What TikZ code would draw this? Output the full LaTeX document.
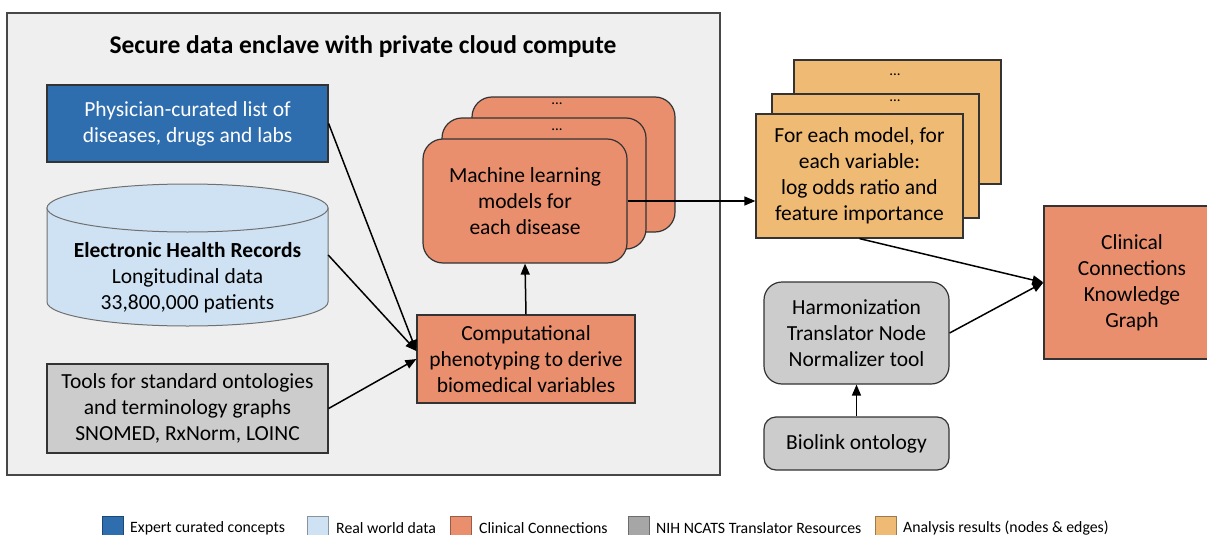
\documentclass[tikz,border=0pt]{standalone}
\usepackage{fontspec}
\setmainfont{Carlito}
\usetikzlibrary{arrows.meta,calc}
\definecolor{eblue}{HTML}{2E6DAE}
\definecolor{lblue}{HTML}{CFE2F3}
\definecolor{salmon}{HTML}{EA8F6E}
\definecolor{lgray}{HTML}{CCCCCC}
\definecolor{mgray}{HTML}{A6A6A6}
\definecolor{orng}{HTML}{EFBB74}
\definecolor{encl}{HTML}{EFEFEF}
\definecolor{bordc}{HTML}{333333}
\begin{document}
\begin{tikzpicture}[x=1pt,y=-1pt,
  box/.style={draw=bordc, line width=1.2pt, inner sep=0pt, align=center,
    font=\fontsize{21.5}{26}\selectfont},
  rbox/.style={box, rounded corners=#1},
  dots/.style={inner sep=0pt, font=\fontsize{15}{15}\selectfont},
  arr/.style={line width=1.5pt, -{Triangle[length=11pt,width=9pt]}},
  legsq/.style={draw=#1!65!black, fill=#1, line width=0.8pt, minimum width=21pt, minimum height=20pt, inner sep=0pt},
  legtx/.style={anchor=west, inner sep=0pt, font=\fontsize{15.8}{16}\selectfont}]
\clip (0,0) rectangle (1207,535);
\fill[white] (0,0) rectangle (1207,535);

% enclave
\node[draw=bordc!90, fill=encl, line width=2pt, minimum width=713pt, minimum height=462pt, inner sep=0pt] (enclave) at (363.5,244) {};
\node[font=\fontsize{25.5}{28}\selectfont\bfseries] (title) at (363,47) {Secure data enclave with private cloud compute};

% inputs
\node[box, fill=eblue, text=white, minimum width=281pt, minimum height=77pt] (phys) at (187.5,123.5) {Physician-curated list of\\diseases, drugs and labs};

\path[fill=lblue, draw=bordc!70, line width=1pt] (47,208) -- (47,302) arc[start angle=180, end angle=360, x radius=140.5pt, y radius=24pt] -- (328,208) -- cycle;
\draw[fill=lblue, draw=bordc!70, line width=1pt] (187.5,208) ellipse[x radius=140.5pt, y radius=24pt];
\node[align=center, inner sep=0pt, minimum width=281pt, font=\fontsize{21.5}{26}\selectfont] (ehr) at (187.5,278) {\textbf{Electronic Health Records}\\Longitudinal data\\33,800,000 patients};

\node[box, fill=lgray, minimum width=281pt, minimum height=89pt] (tools) at (187.5,408.5) {Tools for standard ontologies\\and terminology graphs\\SNOMED, RxNorm, LOINC};

% computational
\node[box, fill=salmon, minimum width=218pt, minimum height=88pt] (comp) at (526,359) {Computational\\phenotyping to derive\\biomedical variables};

% ML stack
\node[rbox=20pt, fill=salmon, minimum width=203pt, minimum height=135pt] (ml3) at (573.5,164.5) {};
\node[dots] (ml3d) at (557,104) {...};
\node[rbox=20pt, fill=salmon, minimum width=204pt, minimum height=131pt] (ml2) at (544,183.5) {};
\node[dots] (ml2d) at (557,130) {...};
\node[rbox=20pt, fill=salmon, minimum width=204pt, minimum height=124pt] (ml) at (525,201) {Machine learning\\models for\\each disease};

% analysis stack
\node[box, fill=orng, minimum width=207pt, minimum height=124pt] (an3) at (897.5,122) {};
\node[dots] (an3d) at (895,75) {...};
\node[box, fill=orng, minimum width=207pt, minimum height=124pt] (an2) at (875.5,156) {};
\node[dots] (an2d) at (895,101) {...};
\node[box, fill=orng, minimum width=207pt, minimum height=124pt] (an) at (859.5,176) {For each model, for\\each variable:\\log odds ratio and\\feature importance};

% knowledge graph
\node[box, fill=salmon, minimum width=176pt, minimum height=153pt] (kg) at (1132,282.5) {Clinical\\Connections\\Knowledge\\Graph};

% translator
\node[rbox=18pt, fill=lgray, minimum width=185pt, minimum height=102pt] (harm) at (856.5,333) {Harmonization\\Translator Node\\Normalizer tool};
\node[rbox=12pt, fill=lgray, minimum width=185pt, minimum height=53pt] (bio) at (856.5,443.5) {Biolink ontology};

% connectors
\draw[arr] (phys.east) -- ([yshift=8pt]comp.west);
\draw[arr] ([yshift=23pt]ehr.east) -- ([yshift=8pt]comp.west);
\draw[arr] (tools.east) -- (comp.west);
\draw[arr] (comp.north) -- (ml.south);
\draw[arr] (ml.east) -- (ml.east -| an.west);
\draw[arr] (an.south) -- (kg.west);
\draw[arr] (harm.east) -- (kg.west);
\draw[arr] (bio.north) -- (harm.south);

% legend
\node[legsq=eblue] (l1) at (113,526) {};
\node[legtx] (t1) at (130,528) {Expert curated concepts};
\node[legsq=lblue] (l2) at (318,526) {};
\node[legtx] (t2) at (336,528) {Real world data};
\node[legsq=salmon] (l3) at (461,526) {};
\node[legtx] (t3) at (479,528) {Clinical Connections};
\node[legsq=mgray] (l4) at (639,526) {};
\node[legtx] (t4) at (656,528) {NIH NCATS Translator Resources};
\node[legsq=orng] (l5) at (886,526) {};
\node[legtx] (t5) at (903,528) {Analysis results (nodes \& edges)};
\end{tikzpicture}
\end{document}
